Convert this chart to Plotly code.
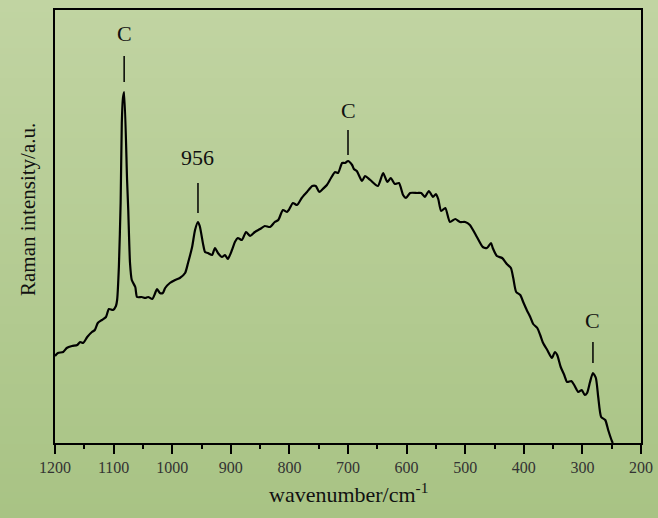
import plotly.graph_objects as go

# Raman spectrum (wavenumber in cm^-1, intensity in arbitrary units)
wavenumber = [1200, 1195, 1186, 1180, 1171, 1162, 1157, 1152, 1145, 1137, 1132, 1127, 1120, 1113,
              1108, 1101, 1096, 1094, 1091, 1088, 1086, 1084, 1082, 1077, 1075, 1072, 1069, 1063,
              1060, 1052, 1046, 1041, 1034, 1029, 1026, 1021, 1016, 1012, 1004, 995, 987, 978, 973,
              966, 961, 956, 953, 947, 944, 939, 932, 927, 922, 915, 910, 905, 898, 893, 888, 881,
              874, 867, 859, 850, 842, 833, 825, 819, 811, 804, 801, 794, 787, 779, 770, 761, 755,
              749, 743, 736, 729, 722, 717, 710, 705, 700, 693, 690, 685, 676, 671, 662, 649, 640,
              633, 627, 620, 613, 606, 601, 594, 582, 575, 569, 562, 555, 550, 546, 541, 534, 526,
              517, 509, 500, 492, 480, 470, 463, 456, 453, 446, 437, 429, 422, 418, 413, 406, 401,
              395, 389, 384, 377, 372, 367, 360, 352, 347, 343, 337, 331, 326, 319, 314, 307, 301,
              296, 292, 287, 282, 277, 273, 268, 261, 256, 249, 248]
intensity = [87, 90, 91, 95, 97, 98, 101, 100, 106, 111, 113, 120, 123, 126,
             134, 133, 137, 143, 176, 240, 320, 345, 351, 263, 233, 180, 163, 156,
             146, 146, 145, 146, 144, 150, 154, 150, 150, 155, 160, 163, 165, 170, 180,
             196, 213, 221, 217, 198, 191, 190, 188, 195, 190, 186, 188, 184, 193, 201, 205, 203,
             211, 207, 211, 214, 217, 216, 221, 223, 233, 231, 233, 240, 238, 245, 251, 257, 257,
             251, 254, 258, 265, 271, 270, 280, 280, 282, 278, 274, 272, 262, 267, 263, 257, 270,
             261, 265, 259, 260, 248, 245, 250, 250, 250, 246, 252, 246, 249, 244, 232, 235, 221,
             224, 221, 221, 218, 206, 196, 195, 200, 195, 187, 185, 179, 175, 165, 151, 148, 141,
             133, 126, 119, 115, 108, 100, 93, 85, 91, 88, 76, 68, 61, 62, 58, 51, 53,
             48, 50, 61, 70, 65, 46, 26, 23, 13, 1, 0]

# Peak labels
peak_pos = [1082, 956, 700, 282]
peak_labels = ["C", "956", "C", "C"]
peak_text_y = [410, 286, 333, 123]
peak_line_lo = [361, 230, 288, 80]
peak_line_hi = [387, 260, 313, 101]

x_ticks = [1200, 1100, 1000, 900, 800, 700, 600, 500, 400, 300, 200]
x_title = "wavenumber/cm<sup>-1</sup>"
y_title = "Raman intensity/a.u."

W, H = 658, 518
ml, mr, mt, mb = 55, 17, 10, 75
pw, ph = W - ml - mr, H - mt - mb

fig = go.Figure()
fig.add_trace(go.Scatter(x=wavenumber, y=intensity, mode="lines",
                         line=dict(color="black", width=2.2, shape="spline", smoothing=0.6),
                         hoverinfo="skip", showlegend=False))

# background vertical gradient (stripes in paper coordinates)
shapes = []
top = (193, 212, 162)
bot = (168, 195, 132)
step = 6
for p in range(0, H, step):
    t = p / H
    c = tuple(round(top[i] + (bot[i] - top[i]) * t) for i in range(3))
    shapes.append(dict(type="rect", xref="paper", yref="paper",
                       x0=-ml / pw, x1=1 + mr / pw,
                       y0=(H - mb - (p + step + 1)) / ph, y1=(H - mb - p) / ph,
                       fillcolor="rgb(%d,%d,%d)" % c, line=dict(width=0), layer="below"))

annotations = []
for xp, lab, ty, lo, hi in zip(peak_pos, peak_labels, peak_text_y, peak_line_lo, peak_line_hi):
    shapes.append(dict(type="line", xref="x", yref="y", x0=xp, x1=xp, y0=lo, y1=hi,
                       line=dict(color="black", width=1.5)))
    annotations.append(dict(x=xp, y=ty, xref="x", yref="y", text=lab, showarrow=False,
                            font=dict(family="Liberation Serif", size=22, color="#111"),
                            xanchor="center", yanchor="middle"))

annotations.append(dict(x=0.5, y=(H - mb - 493) / ph, xref="paper", yref="paper", text=x_title,
                        showarrow=False, xanchor="center", yanchor="middle",
                        font=dict(family="Liberation Serif", size=22, color="#111")))
annotations.append(dict(x=(28 - ml) / pw, y=(H - mb - 210) / ph, xref="paper", yref="paper",
                        text=y_title, textangle=-90, showarrow=False,
                        xanchor="center", yanchor="middle",
                        font=dict(family="Liberation Serif", size=21, color="#111")))

fig.update_layout(
    width=W, height=H,
    margin=dict(l=ml, r=mr, t=mt, b=mb, autoexpand=False),
    paper_bgcolor="rgb(181,204,148)",
    plot_bgcolor="rgba(0,0,0,0)",
    shapes=shapes,
    annotations=annotations,
    xaxis=dict(range=[1200, 200], tickvals=x_ticks, ticks="outside", ticklen=9, tickwidth=1.5,
               tickcolor="black", showgrid=False, zeroline=False, automargin=False,
               showline=True, linecolor="black", linewidth=1.5, mirror=True,
               tickfont=dict(family="Liberation Serif", size=16, color="#333"),
               minor=dict(dtick=50, tick0=0, ticks="outside", ticklen=4, tickwidth=1.5,
                          tickcolor="black", showgrid=False)),
    yaxis=dict(range=[0, 433], showticklabels=False, ticks="", showgrid=False, zeroline=False,
               automargin=False,
               showline=True, linecolor="black", linewidth=1.5, mirror=True),
)

fig.write_html("out.html")
